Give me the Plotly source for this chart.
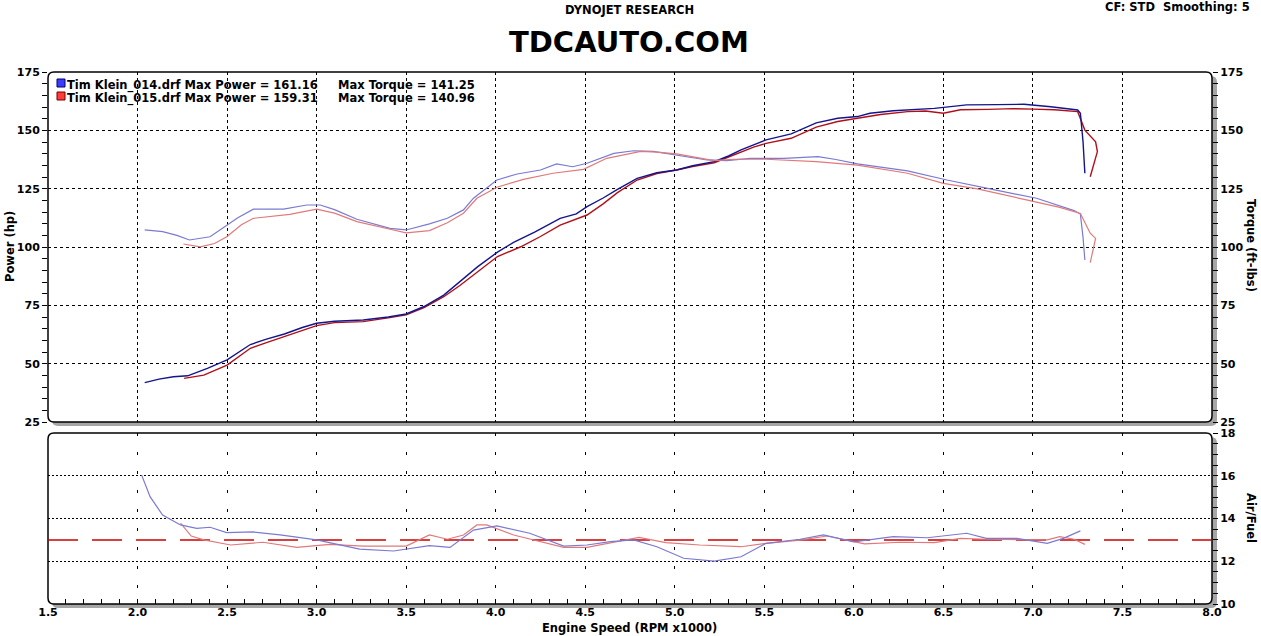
import plotly.graph_objects as go

# ---------------- data ----------------
rpm_pw_014 = [2.04, 2.12, 2.20, 2.28, 2.39, 2.50, 2.63, 2.72, 2.82, 2.92, 3.00, 3.10, 3.26, 3.40, 3.50,
              3.60, 3.71, 3.80, 3.90, 4.01, 4.10, 4.22, 4.36, 4.45, 4.51, 4.60, 4.68, 4.79, 4.90, 5.01,
              5.10, 5.22, 5.30, 5.37, 5.44, 5.51, 5.65, 5.79, 5.91, 6.02, 6.09, 6.22, 6.45, 6.63, 6.80,
              6.95, 7.10, 7.25, 7.265, 7.28, 7.29]
hp_014 = [41.9, 43.4, 44.4, 44.8, 48.0, 51.6, 58.2, 60.5, 62.7, 65.5, 67.3, 68.2, 68.7, 70.0, 71.3,
          74.5, 79.4, 85.0, 91.6, 97.8, 102.0, 106.5, 112.3, 114.2, 117.3, 121.0, 124.7, 129.4, 131.8, 133.0,
          134.8, 136.6, 139.0, 141.6, 143.8, 145.9, 148.5, 153.2, 155.2, 155.9, 157.3, 158.4, 159.4, 160.9, 161.0,
          161.16, 160.1, 158.7, 157.3, 145.0, 131.6]

rpm_pw_015 = [2.26, 2.37, 2.50, 2.63, 2.72, 2.82, 2.92, 3.00, 3.10, 3.26, 3.40, 3.50, 3.60, 3.71, 3.80,
              3.90, 4.01, 4.14, 4.25, 4.36, 4.45, 4.51, 4.60, 4.68, 4.79, 4.90, 5.01, 5.10, 5.22, 5.30,
              5.37, 5.44, 5.51, 5.65, 5.79, 5.91, 6.02, 6.15, 6.30, 6.40, 6.50, 6.595, 6.75, 6.89, 7.00,
              7.12, 7.25, 7.29, 7.35, 7.36, 7.32]
hp_015 = [43.7, 45.1, 49.4, 56.6, 59.0, 61.6, 64.5, 66.3, 67.6, 68.0, 69.6, 70.9, 74.0, 78.7, 83.5,
          89.4, 95.9, 100.1, 104.5, 109.4, 111.8, 113.7, 118.5, 123.3, 128.7, 131.5, 133.0, 134.5, 136.1, 138.5,
          140.9, 142.8, 144.4, 146.6, 151.4, 153.8, 155.2, 156.8, 158.0, 158.3, 157.3, 158.8, 159.0, 159.31, 159.1,
          158.8, 158.0, 150.1, 145.1, 140.9, 130.1]

rpm_tq_014 = [2.04, 2.14, 2.22, 2.29, 2.405, 2.50, 2.56, 2.647, 2.815, 2.945, 3.02, 3.10, 3.225, 3.41, 3.50,
              3.63, 3.73, 3.82, 3.876, 4.007, 4.12, 4.25, 4.34, 4.43, 4.51, 4.66, 4.77, 4.88, 5.01, 5.18,
              5.29, 5.42, 5.61, 5.80, 5.90, 6.02, 6.30, 6.52, 6.74, 7.02, 7.23, 7.265, 7.28, 7.29]
tq_014 = [107.3, 106.6, 105.0, 103.0, 104.4, 109.4, 112.5, 116.2, 116.2, 118.0, 118.0, 116.0, 111.9, 108.0, 107.3,
          109.9, 112.3, 115.9, 120.9, 128.7, 131.3, 133.0, 135.6, 134.4, 135.9, 140.1, 141.25, 141.0, 139.4, 137.3,
          137.0, 138.0, 138.0, 138.7, 137.5, 135.6, 132.6, 128.7, 125.2, 120.9, 115.6, 114.1, 104.0, 94.4]

rpm_tq_015 = [2.256, 2.35, 2.43, 2.498, 2.58, 2.647, 2.85, 3.00, 3.10, 3.225, 3.41, 3.50, 3.63, 3.73, 3.82,
              3.895, 4.007, 4.155, 4.32, 4.49, 4.62, 4.81, 4.90, 5.01, 5.22, 5.33, 5.51, 5.79, 6.02, 6.30,
              6.50, 6.69, 6.97, 7.15, 7.265, 7.32, 7.35, 7.32]
tq_015 = [101.3, 100.1, 101.5, 104.4, 109.5, 112.3, 114.0, 116.2, 114.5, 110.9, 107.6, 106.1, 107.0, 110.4, 114.5,
          120.9, 125.6, 129.0, 131.6, 133.3, 138.0, 140.96, 140.7, 139.9, 137.0, 137.6, 137.6, 136.6, 135.1, 131.6,
          127.3, 124.9, 120.1, 117.0, 114.4, 105.9, 103.7, 93.3]

rpm_af_014 = [2.023, 2.07, 2.14, 2.24, 2.33, 2.405, 2.498, 2.647, 2.796, 3.00, 3.24, 3.43, 3.63, 3.745, 3.876,
              4.007, 4.19, 4.38, 4.51, 4.64, 4.77, 4.90, 5.05, 5.22, 5.37, 5.51, 5.70, 5.83, 6.00, 6.22,
              6.41, 6.63, 6.74, 6.91, 7.08, 7.17, 7.265]
af_014 = [16.03, 15.02, 14.16, 13.70, 13.54, 13.59, 13.34, 13.37, 13.23, 13.00, 12.57, 12.48, 12.73, 12.65, 13.46,
          13.65, 13.31, 12.71, 12.76, 12.92, 13.00, 12.68, 12.14, 12.01, 12.21, 12.84, 13.03, 13.23, 12.91, 13.15,
          13.10, 13.31, 13.07, 13.07, 12.84, 13.07, 13.42]

rpm_af_015 = [2.24, 2.30, 2.37, 2.52, 2.70, 2.89, 3.075, 3.26, 3.50, 3.63, 3.73, 3.82, 3.895, 3.95, 4.10,
              4.38, 4.51, 4.64, 4.80, 4.95, 5.14, 5.37, 5.51, 5.70, 5.85, 6.06, 6.26, 6.45, 6.595, 6.74,
              6.97, 7.08, 7.15, 7.23, 7.29]
af_015 = [13.78, 13.18, 13.00, 12.76, 12.89, 12.65, 12.79, 12.71, 12.71, 13.23, 13.03, 13.23, 13.70, 13.70, 13.23,
          12.65, 12.65, 12.87, 13.12, 12.87, 12.76, 12.68, 12.84, 12.99, 13.18, 12.81, 12.89, 12.87, 13.07, 13.03,
          13.03, 13.00, 13.15, 13.03, 12.79]

target_rpm = [1.5, 8.0]
target_af = [13.0, 13.0]

power_ticks = [25, 50, 75, 100, 125, 150, 175]
afr_ticks = [10, 12, 14, 16, 18]
rpm_ticks = [1.5, 2.0, 2.5, 3.0, 3.5, 4.0, 4.5, 5.0, 5.5, 6.0, 6.5, 7.0, 7.5, 8.0]

# ---------------- layout helpers ----------------
W, H = 1261, 636
L, R, T, B = 48, 1212, 72, 604          # plot-area edges in pixels
TOP_BOT = 422
BOT_TOP = 433


def px(x):
    return (x - L) / (R - L)


def py(y):
    return (B - y) / (B - T)


def rrect(x0, y0, x1, y1, r):
    def p(x, y):
        return f"{px(x):.5f},{py(y):.5f}"
    return (f"M {p(x0 + r, y0)} L {p(x1 - r, y0)} Q {p(x1, y0)} {p(x1, y0 + r)} "
            f"L {p(x1, y1 - r)} Q {p(x1, y1)} {p(x1 - r, y1)} "
            f"L {p(x0 + r, y1)} Q {p(x0, y1)} {p(x0, y1 - r)} "
            f"L {p(x0, y0 + r)} Q {p(x0, y0)} {p(x0 + r, y0)} Z")


FONT = "DejaVu Sans"
BLUE_P = "#14148c"
RED_P = "#b0101a"
BLUE_T = "#7a7ad2"
RED_T = "#e07a7a"

fig = go.Figure()

fig.add_trace(go.Scatter(x=rpm_tq_014, y=tq_014, mode="lines", line=dict(color=BLUE_T, width=1.2),
                         xaxis="x", yaxis="y2", showlegend=False))
fig.add_trace(go.Scatter(x=rpm_tq_015, y=tq_015, mode="lines", line=dict(color=RED_T, width=1.2),
                         xaxis="x", yaxis="y2", showlegend=False))
fig.add_trace(go.Scatter(x=rpm_pw_015, y=hp_015, mode="lines", line=dict(color=RED_P, width=1.4),
                         xaxis="x", yaxis="y", showlegend=False))
fig.add_trace(go.Scatter(x=rpm_pw_014, y=hp_014, mode="lines", line=dict(color=BLUE_P, width=1.4),
                         xaxis="x", yaxis="y", showlegend=False))

fig.add_trace(go.Scatter(x=target_rpm, y=target_af, mode="lines",
                         line=dict(color="#cc0000", width=1.5, dash="30px,14px"),
                         xaxis="x2", yaxis="y3", showlegend=False))
fig.add_trace(go.Scatter(x=rpm_af_015, y=af_015, mode="lines", line=dict(color=RED_T, width=1.2),
                         xaxis="x2", yaxis="y3", showlegend=False))
fig.add_trace(go.Scatter(x=rpm_af_014, y=af_014, mode="lines", line=dict(color=BLUE_T, width=1.2),
                         xaxis="x2", yaxis="y3", showlegend=False))

tickfont = dict(family=FONT, size=11, color="black", weight="bold")
top_dom = [py(TOP_BOT), 1.0]
bot_dom = [0.0, py(BOT_TOP)]

shapes = []
for (y0, y1) in [(T, TOP_BOT), (BOT_TOP, B)]:
    shapes.append(dict(type="path", path=rrect(L + 4, y0 + 4, R + 5, y1 + 4, 6), xref="paper", yref="paper",
                       fillcolor="#a6a6a6", line=dict(width=0), layer="below"))
for (y0, y1) in [(T, TOP_BOT), (BOT_TOP, B)]:
    shapes.append(dict(type="path", path=rrect(L, y0, R, y1, 6), xref="paper", yref="paper",
                       fillcolor="white", line=dict(color="black", width=1.5), layer="below"))
for (y0, fc, lc) in [(79, "#3c3cff", "#000070"), (92, "#ff3c3c", "#700000")]:
    shapes.append(dict(type="rect", xref="paper", yref="paper", x0=px(57), x1=px(65), y0=py(y0 + 8), y1=py(y0),
                       fillcolor=fc, line=dict(color=lc, width=1), layer="above"))

annotations = []


def ann(text, x, y, size=11.5, xanchor="left", yanchor="middle", angle=0):
    annotations.append(dict(text=text, x=px(x), y=py(y), xref="paper", yref="paper", showarrow=False,
                            xanchor=xanchor, yanchor=yanchor, textangle=angle, borderpad=0,
                            font=dict(family=FONT, size=size, color="black", weight="bold")))


ann("Tim Klein_014.drf Max Power = 161.16", 66, 85)
ann("Tim Klein_015.drf Max Power = 159.31", 66, 98)
ann("Max Torque = 141.25", 337, 85)
ann("Max Torque = 140.96", 337, 98)
ann("DYNOJET RESEARCH", 629, 10, size=11.5, xanchor="center")
ann("TDCAUTO.COM", 629, 42, size=29, xanchor="center")
ann("CF: STD&nbsp; Smoothing: 5", 1251, 7, size=11.5, xanchor="right")
ann("Engine Speed (RPM x1000)", 629, 628, size=11.5, xanchor="center")
ann("Power (hp)", 10, 247, size=11.5, xanchor="center", angle=-90)
ann("Torque (ft-lbs)", 1251, 245, size=11.5, xanchor="center", angle=90)
ann("Air/Fuel", 1251, 518, size=11.5, xanchor="center", angle=90)

fig.update_layout(
    width=W, height=H,
    margin=dict(l=L, r=W - R, t=T, b=H - B, pad=0),
    paper_bgcolor="white", plot_bgcolor="rgba(0,0,0,0)",
    showlegend=False,
    shapes=shapes, annotations=annotations,
    xaxis=dict(domain=[0, 1], anchor="y", range=[1.5, 8.0], tickvals=rpm_ticks, showticklabels=False,
               ticks="", showgrid=True, gridcolor="black", gridwidth=1, griddash="3px,3px",
               zeroline=False, showline=False),
    yaxis=dict(domain=top_dom, anchor="x", range=[25, 175], tickvals=power_ticks, ticks="outside",
               ticklen=5, tickcolor="black", tickfont=tickfont,
               minor=dict(dtick=5, tick0=25, ticks="outside", ticklen=5, tickcolor="black", showgrid=False),
               showgrid=True, gridcolor="black", gridwidth=1, griddash="3px,3px",
               zeroline=False, showline=False),
    yaxis2=dict(overlaying="y", side="right", anchor="x", range=[25, 175], tickvals=power_ticks,
                ticks="outside", ticklen=5, tickcolor="black", tickfont=tickfont,
                minor=dict(dtick=5, tick0=25, ticks="outside", ticklen=5, tickcolor="black", showgrid=False),
                showgrid=False, zeroline=False, showline=False),
    xaxis2=dict(domain=[0, 1], anchor="y3", range=[1.5, 8.0], tickvals=rpm_ticks, tickformat=".1f",
                ticks="inside", ticklen=5, tickcolor="black", tickfont=tickfont,
                minor=dict(dtick=0.1, tick0=1.5, ticks="inside", ticklen=5, tickcolor="black", showgrid=False),
                showgrid=True, gridcolor="black", gridwidth=1, griddash="3px,16px",
                zeroline=False, showline=False),
    yaxis3=dict(domain=bot_dom, anchor="x2", side="right", range=[10, 18], tickvals=afr_ticks,
                ticks="outside", ticklen=5, tickcolor="black", tickfont=tickfont,
                minor=dict(dtick=0.5, tick0=10, ticks="outside", ticklen=5, tickcolor="black", showgrid=False),
                showgrid=True, gridcolor="black", gridwidth=1, griddash="2px,2px",
                zeroline=False, showline=False),
)

# remove the browser's default 8px page margin so the figure sits at the window's corner
fig.write_html("out.html", config={"displayModeBar": False},
               post_script="document.body.style.margin='0';document.body.style.overflow='hidden';")
